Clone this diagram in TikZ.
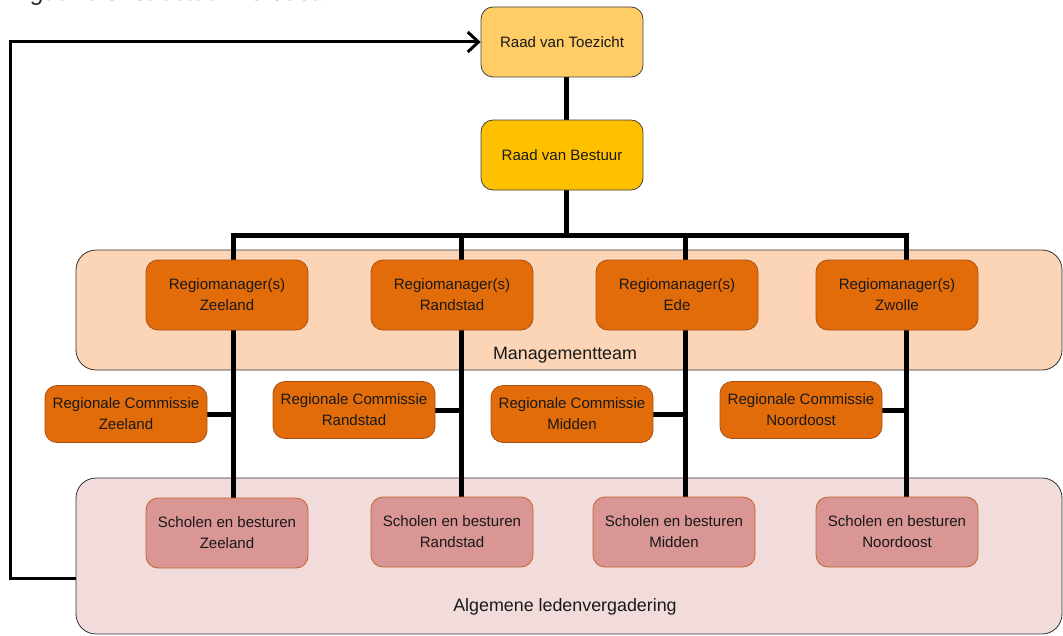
\documentclass[tikz,border=0pt]{standalone}
\usepackage{fontspec}
\setmainfont{Liberation Sans}
\usetikzlibrary{arrows.meta}

\pgfdeclarelayer{back}
\pgfdeclarelayer{lines}
\pgfsetlayers{back,lines,main}

\definecolor{toezichtfill}{RGB}{255,204,102}
\definecolor{bestuurfill}{RGB}{255,192,0}
\definecolor{regiofill}{RGB}{227,108,10}
\definecolor{regiodraw}{RGB}{170,80,20}
\definecolor{mtfill}{RGB}{251,213,181}
\definecolor{schoolfill}{RGB}{217,150,148}
\definecolor{schooldraw}{RGB}{192,100,40}
\definecolor{alvfill}{RGB}{242,220,219}

\tikzset{
	box/.style={rounded corners=9pt, minimum width=121.5pt, minimum height=52.5pt, inner sep=2pt, align=center, text=black!90, font=\fontsize{11.3}{15.8}\selectfont},
	raad/.style={box, draw=black!75, line width=0.6pt},
	regio/.style={box, draw=regiodraw, line width=0.6pt, fill=regiofill},
	commissie/.style={regio, minimum height=42.75pt},
	school/.style={box, draw=schooldraw, line width=0.6pt, fill=schoolfill},
	team/.style={draw=black!80, line width=0.6pt, rounded corners=15pt, minimum width=739.5pt},
	teamlabel/.style={font=\fontsize{13.4}{16}\selectfont, text=black!90},
	orgline/.style={line width=3.75pt, black},
	fbline/.style={line width=2.25pt, black}
}

\begin{document}
\begin{tikzpicture}[x=0.75pt,y=0.75pt,yscale=-1,xscale=1]
	\useasboundingbox (0,0) rectangle (1063,635);

	% caption (cut off at the top of the page)
	\node [anchor=base west, inner sep=0pt, font=\fontsize{18}{20}\selectfont\itshape, text=black!85] (caption) at (11,1) {Figuur 3.3: structuur Berseba};

	% background blocks
	\begin{pgfonlayer}{back}
		\node [team, fill=mtfill, minimum height=90pt] (mt) at (569,310) {};
		\node [team, fill=alvfill, minimum height=117pt] (alv) at (569,556) {};
	\end{pgfonlayer}
	\node [teamlabel] (mtlabel) at (565,355) {Managementteam};
	\node [teamlabel] (alvlabel) at (565,607) {Algemene ledenvergadering};

	% top
	\node [raad, fill=toezichtfill] (rvt) at (562,42) {Raad van Toezicht};
	\node [raad, fill=bestuurfill] (rvb) at (562,155) {Raad van Bestuur};

	% regiomanagers
	\node [regio] (rmZ) at (227,295) {Regiomanager(s)\\Zeeland};
	\node [regio] (rmR) at (452,295) {Regiomanager(s)\\Randstad};
	\node [regio] (rmE) at (677,295) {Regiomanager(s)\\Ede};
	\node [regio] (rmW) at (897,295) {Regiomanager(s)\\Zwolle};

	% regionale commissies
	\node [commissie] (rcZ) at (126,414) {Regionale Commissie\\Zeeland};
	\node [commissie] (rcR) at (354,410) {Regionale Commissie\\Randstad};
	\node [commissie] (rcM) at (572,414) {Regionale Commissie\\Midden};
	\node [commissie] (rcN) at (801,410) {Regionale Commissie\\Noordoost};

	% scholen
	\node [school] (sbZ) at (227,533) {Scholen en besturen\\Zeeland};
	\node [school] (sbR) at (452,532) {Scholen en besturen\\Randstad};
	\node [school] (sbM) at (674,532) {Scholen en besturen\\Midden};
	\node [school] (sbN) at (897,532) {Scholen en besturen\\Noordoost};

	% lines
	\coordinate (lZ) at (233,235);
	\coordinate (lR) at (461,235);
	\coordinate (lE) at (685,235);
	\coordinate (lW) at (906,235);
	\coordinate (fb) at (10,578);
	\begin{pgfonlayer}{lines}
		\draw [orgline] ([xshift=3pt]rvt.south) -- ([xshift=3pt]rvb.north);
		\draw [orgline] ([xshift=3pt]rvb.south) -- ([xshift=3pt]rvb.south |- lZ);
		\draw [orgline] ([xshift=-1.875pt]lZ) -- ([xshift=1.875pt]lW);
		\draw [orgline] (lZ) -- (lZ |- sbZ.north);
		\draw [orgline] (lR) -- (lR |- sbR.north);
		\draw [orgline] (lE) -- (lE |- sbM.north);
		\draw [orgline] (lW) -- (lW |- sbN.north);
		\draw [orgline] (rcZ.east) -- (rcZ.east -| lZ);
		\draw [orgline] (rcR.east) -- (rcR.east -| lR);
		\draw [orgline] (rcM.east) -- (rcM.east -| lE);
		\draw [orgline] (rcN.east) -- (rcN.east -| lW);
	\end{pgfonlayer}

	% feedback to Raad van Toezicht
	\draw [fbline, -{Straight Barb[length=8pt,width=15pt]}] (alv.west |- fb) -- (fb) |- (rvt.west);

\end{tikzpicture}
\end{document}
